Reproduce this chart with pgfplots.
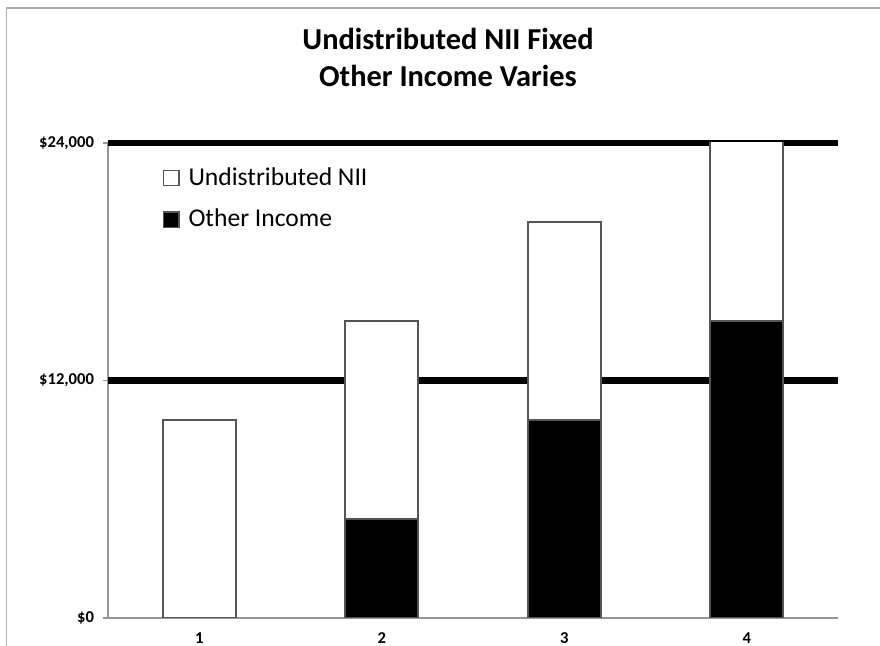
\documentclass[border=0pt]{standalone}
\usepackage{fontspec}
\setmainfont{Carlito}
\usepackage{pgfplots}
\pgfplotsset{compat=1.18}
\definecolor{edgegray}{RGB}{85,85,85}
\definecolor{axisgray}{RGB}{150,150,150}
\begin{document}
\begin{tikzpicture}
\useasboundingbox (0,0) rectangle (440pt,323pt);
\draw[axisgray!80, line width=0.7pt] (3.3pt,-10pt) -- (3.3pt,319pt) -- (450pt,319pt);
\node[align=center, font=\fontsize{15.2}{18.5}\selectfont\bfseries] at (224pt,294.3pt) {Undistributed NII Fixed\\Other Income Varies};
\begin{axis}[
  at={(54pt,14pt)}, anchor=south west, scale only axis,
  width=365pt, height=237.5pt,
  ybar stacked, bar width=36.5pt,
  xmin=0.5, xmax=4.5, ymin=0, ymax=24000,
  axis x line*=bottom, axis y line*=left,
  axis line style={axisgray, line width=0.7pt},
  xtick={1,2,3,4}, xticklabels={1,2,3,4},
  major x tick style={draw=none},
  extra x ticks={0.5,1.5,2.5,3.5,4.5}, extra x tick labels={},
  extra x tick style={tick align=outside, major tick length=3.5pt, tick style={axisgray, line width=0.7pt}},
  ytick={0}, yticklabels={\$0},
  extra y ticks={12000,24000}, extra y tick labels={\$12{,}000,\$24{,}000},
  extra y tick style={grid=major, major grid style={black, line width=3.2pt}},
  tick align=outside, major tick length=2.5pt,
  y tick style={axisgray, line width=0.7pt},
  ticklabel style={font=\fontsize{8.3}{9}\selectfont\bfseries},
  x tick label style={yshift=-1.3pt},
  y tick label style={xshift=-1pt},
  scaled y ticks=false,
  legend style={at={(0.075,0.958)}, anchor=north west, draw=none, fill=none,
    font=\fontsize{12.8}{15}\selectfont, row sep=6.5pt, inner sep=0pt},
  legend cell align=left,
  reverse legend,
  legend image code/.code={\draw[#1, line width=0.6pt] (0pt,-3.8pt) rectangle (7.6pt,3.8pt); \path (10pt,0pt);},
]
\addplot[fill=black, draw=edgegray, line width=0.8pt] coordinates {(1,0) (2,5000) (3,10000) (4,15000)};
\addlegendentry{Other Income}
\addplot[fill=white, draw=edgegray, line width=0.8pt] coordinates {(1,10000) (2,10000) (3,10000) (4,10000)};
\addlegendentry{Undistributed NII}
\end{axis}
\end{tikzpicture}
\end{document}
